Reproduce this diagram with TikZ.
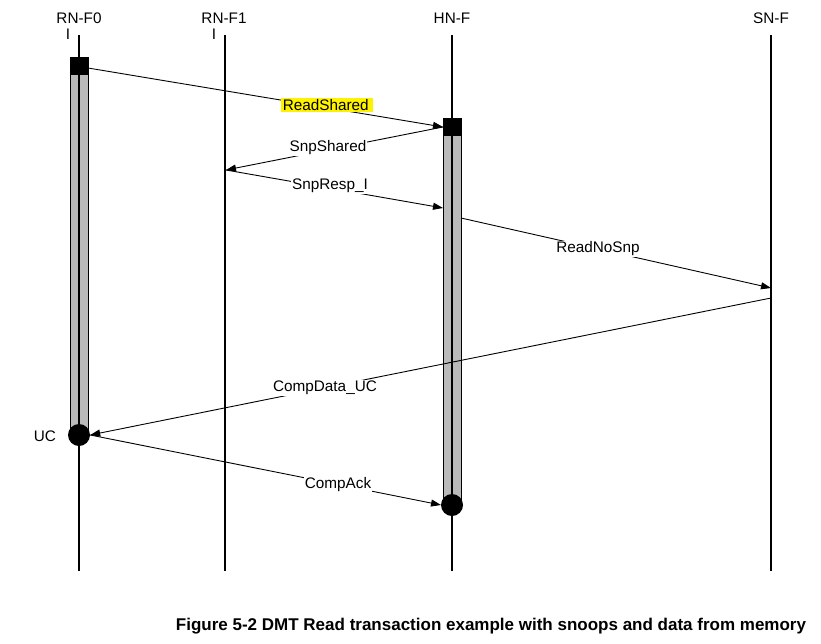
\documentclass[tikz,border=0pt]{standalone}
\usepackage{fontspec}
\setmainfont{Liberation Sans}
\usetikzlibrary{arrows.meta}
\begin{document}
\begin{tikzpicture}[x=1pt,y=-1pt,
  lifeline/.style={line width=2pt},
  msg/.style={line width=0.9pt,-{Triangle[length=10pt,width=7pt]}},
  lbl/.style={fill=white,inner sep=1pt,font=\fontsize{15.3}{18}\selectfont},
  head/.style={font=\fontsize{15.3}{18}\selectfont,inner sep=0pt},
  bar/.style={draw=black,line width=1pt,fill=black!27},
  sqbox/.style={fill=black,minimum size=18pt,inner sep=0pt},
  dotnode/.style={circle,fill=black,minimum size=22pt,inner sep=0pt}]
\useasboundingbox (0,0) rectangle (821,643);
% heads
\node[head] (h0) at (79,18) {RN-F0};
\node[head] (h1) at (224,18) {RN-F1};
\node[head] (h2) at (452,18) {HN-F};
\node[head] (h3) at (771,18) {SN-F};
\node[head] (i0) at (68,34) {I};
\node[head] (i1) at (214,34) {I};
% lifeline ends
\coordinate (t0) at (79,35);  \coordinate (b0) at (79,571);
\coordinate (t1) at (225,35); \coordinate (b1) at (225,571);
\coordinate (t2) at (452,35); \coordinate (b2) at (452,571);
\coordinate (t3) at (771,35); \coordinate (b3) at (771,571);
% activation bars
\draw[bar] (70,57) rectangle (88,435);
\draw[bar] (443,118) rectangle (461,505);
% lifelines
\draw[lifeline] (t0) -- (b0);
\draw[lifeline] (t1) -- (b1);
\draw[lifeline] (t2) -- (b2);
\draw[lifeline] (t3) -- (b3);
% markers
\node[sqbox] (sq0) at (79,65.5) {};
\node[sqbox] (sq1) at (452,126.5) {};
\node[dotnode] (c0) at (79,435) {};
\node[dotnode] (c1) at (452,505) {};
\node[head] (uc) at (45,436) {UC};
% message points
\coordinate (p1) at (88,68);
\coordinate (p2) at (443,127);
\coordinate (p3) at (226,170);
\coordinate (p4) at (443,208);
\coordinate (p5) at (461,218);
\coordinate (p6) at (771,288);
\coordinate (p7) at (771,298);
\coordinate (p8) at (441,505);
% messages
\draw[msg] (p1) -- (p2);
\draw[msg] (p2) -- (p3);
\draw[msg] (p3) -- (p4);
\draw[msg] (p5) -- (p6);
\draw[msg] (p7) -- (c0.east);
\draw[msg] (c0.east) -- (p8);
% labels
\node[lbl,fill=yellow,inner sep=1.5pt] (l1) at (327,105) {ReadShared\,};
\node[lbl] (l2) at (328,148) {SnpShared};
\node[lbl] (l3) at (330,186) {SnpResp\_I};
\node[lbl] (l4) at (598,249) {ReadNoSnp};
\node[lbl] (l5) at (325,388) {CompData\_UC};
\node[lbl] (l6) at (338,485) {CompAck};
% caption
\node[font=\bfseries\fontsize{17}{20}\selectfont,inner sep=0pt] (cap) at (491,626) {Figure 5-2 DMT Read transaction example with snoops and data from memory};
\end{tikzpicture}
\end{document}
